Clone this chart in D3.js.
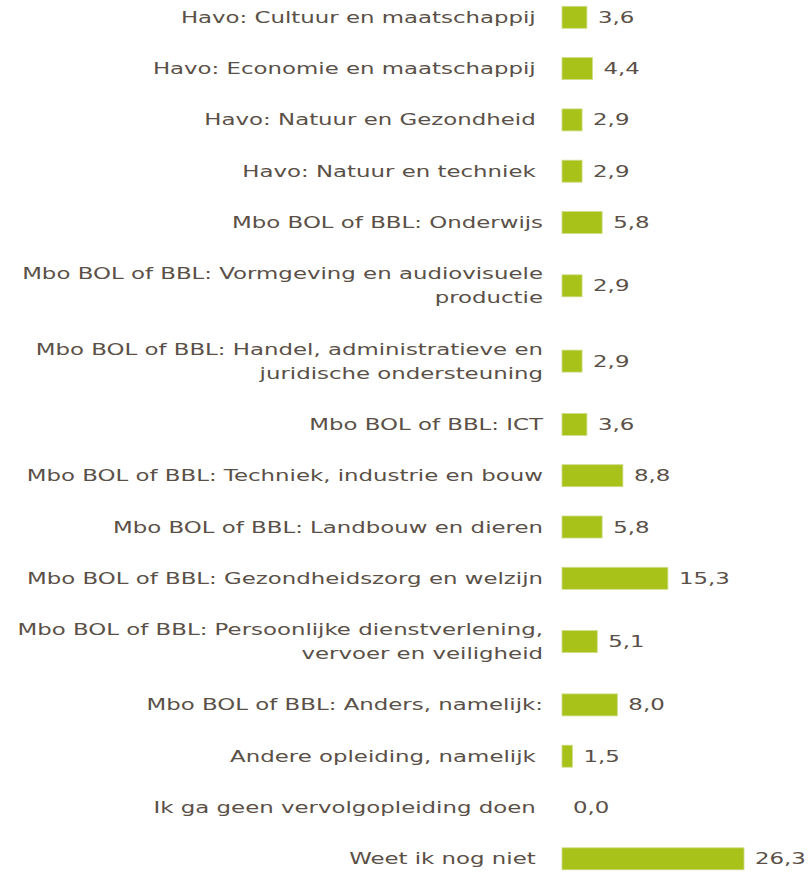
<!DOCTYPE html>
<html>
<head>
<meta charset="UTF-8">
<script src="https://d3js.org/d3.v7.min.js"></script>
<style>
  body { margin: 0; background: #fff; }
  text { font-family: "DejaVu Sans", Verdana, sans-serif; font-size: 15px; fill: #5a5047; white-space: pre; }
</style>
</head>
<body>
<div id="my_dataviz"></div>
<script>

// categories (a "|" marks a line break in the label)
var categories = [
  "Havo: Cultuur en maatschappij ",
  "Havo: Economie en maatschappij ",
  "Havo: Natuur en Gezondheid ",
  "Havo: Natuur en techniek ",
  "Mbo BOL of BBL: Onderwijs",
  "Mbo BOL of BBL: Vormgeving en audiovisuele|productie",
  "Mbo BOL of BBL: Handel, administratieve en|juridische ondersteuning",
  "Mbo BOL of BBL: ICT",
  "Mbo BOL of BBL: Techniek, industrie en bouw",
  "Mbo BOL of BBL: Landbouw en dieren",
  "Mbo BOL of BBL: Gezondheidszorg en welzijn",
  "Mbo BOL of BBL: Persoonlijke dienstverlening,|vervoer en veiligheid",
  "Mbo BOL of BBL: Anders, namelijk:",
  "Andere opleiding, namelijk ",
  "Ik ga geen vervolgopleiding doen ",
  "Weet ik nog niet "
];
var values = [3.6, 4.4, 2.9, 2.9, 5.8, 2.9, 2.9, 3.6, 8.8, 5.8, 15.3, 5.1, 8.0, 1.5, 0.0, 26.3];

var width = 810, height = 872;
var barLeft = 562;
var stretch = 1.525;   // text in the picture is drawn wide
var rowPitch = 51.3, lineExtra = 24, barH = 22, firstCenter = 17.3;

var svg = d3.select("#my_dataviz")
  .append("svg")
    .attr("width", width)
    .attr("height", height);

var data = categories.map(function(c, i) {
  return { lines: c.split("|"), value: values[i] };
});

// row centres: two-line rows take a bit more room
var acc = firstCenter;
data.forEach(function(d, i) {
  if (i > 0) {
    var prev = data[i - 1];
    acc += rowPitch + lineExtra * (prev.lines.length - 1) / 2 + lineExtra * (d.lines.length - 1) / 2;
  }
  d.cy = acc;
});

var x = d3.scaleLinear()
  .domain([0, 26.3])
  .range([0, 182]);

var fmt = function(v) { return d3.format(".1f")(v).replace(".", ","); };

var row = svg.selectAll("g.row")
  .data(data)
  .enter()
  .append("g")
    .attr("class", "row")
    .attr("transform", function(d) { return "translate(0," + d.cy + ")"; });

row.filter(function(d) { return d.value > 0; })
  .append("rect")
    .attr("x", barLeft)
    .attr("y", -barH / 2)
    .attr("width", function(d) { return x(d.value); })
    .attr("height", barH)
    .style("fill", "#a9c21a")
    .style("stroke", "#cddc8a")
    .style("stroke-width", 0.8);

// category labels, right aligned against the bars
row.append("text")
    .attr("text-anchor", "end")
    .attr("transform", function(d) {
      var dy = 5.5 - (d.lines.length - 1) * lineExtra / 2;
      return "translate(543," + dy + ") scale(" + stretch + ",1)";
    })
  .selectAll("tspan")
  .data(function(d) { return d.lines; })
  .enter()
  .append("tspan")
    .attr("x", 0)
    .attr("y", function(l, i) { return i * lineExtra; })
    .text(function(l) { return l; });

// value labels
row.append("text")
    .attr("transform", function(d) {
      return "translate(" + (barLeft + x(d.value) + 11) + ",5.5) scale(" + stretch + ",1)";
    })
    .text(function(d) { return fmt(d.value); });

</script>
</body>
</html>
